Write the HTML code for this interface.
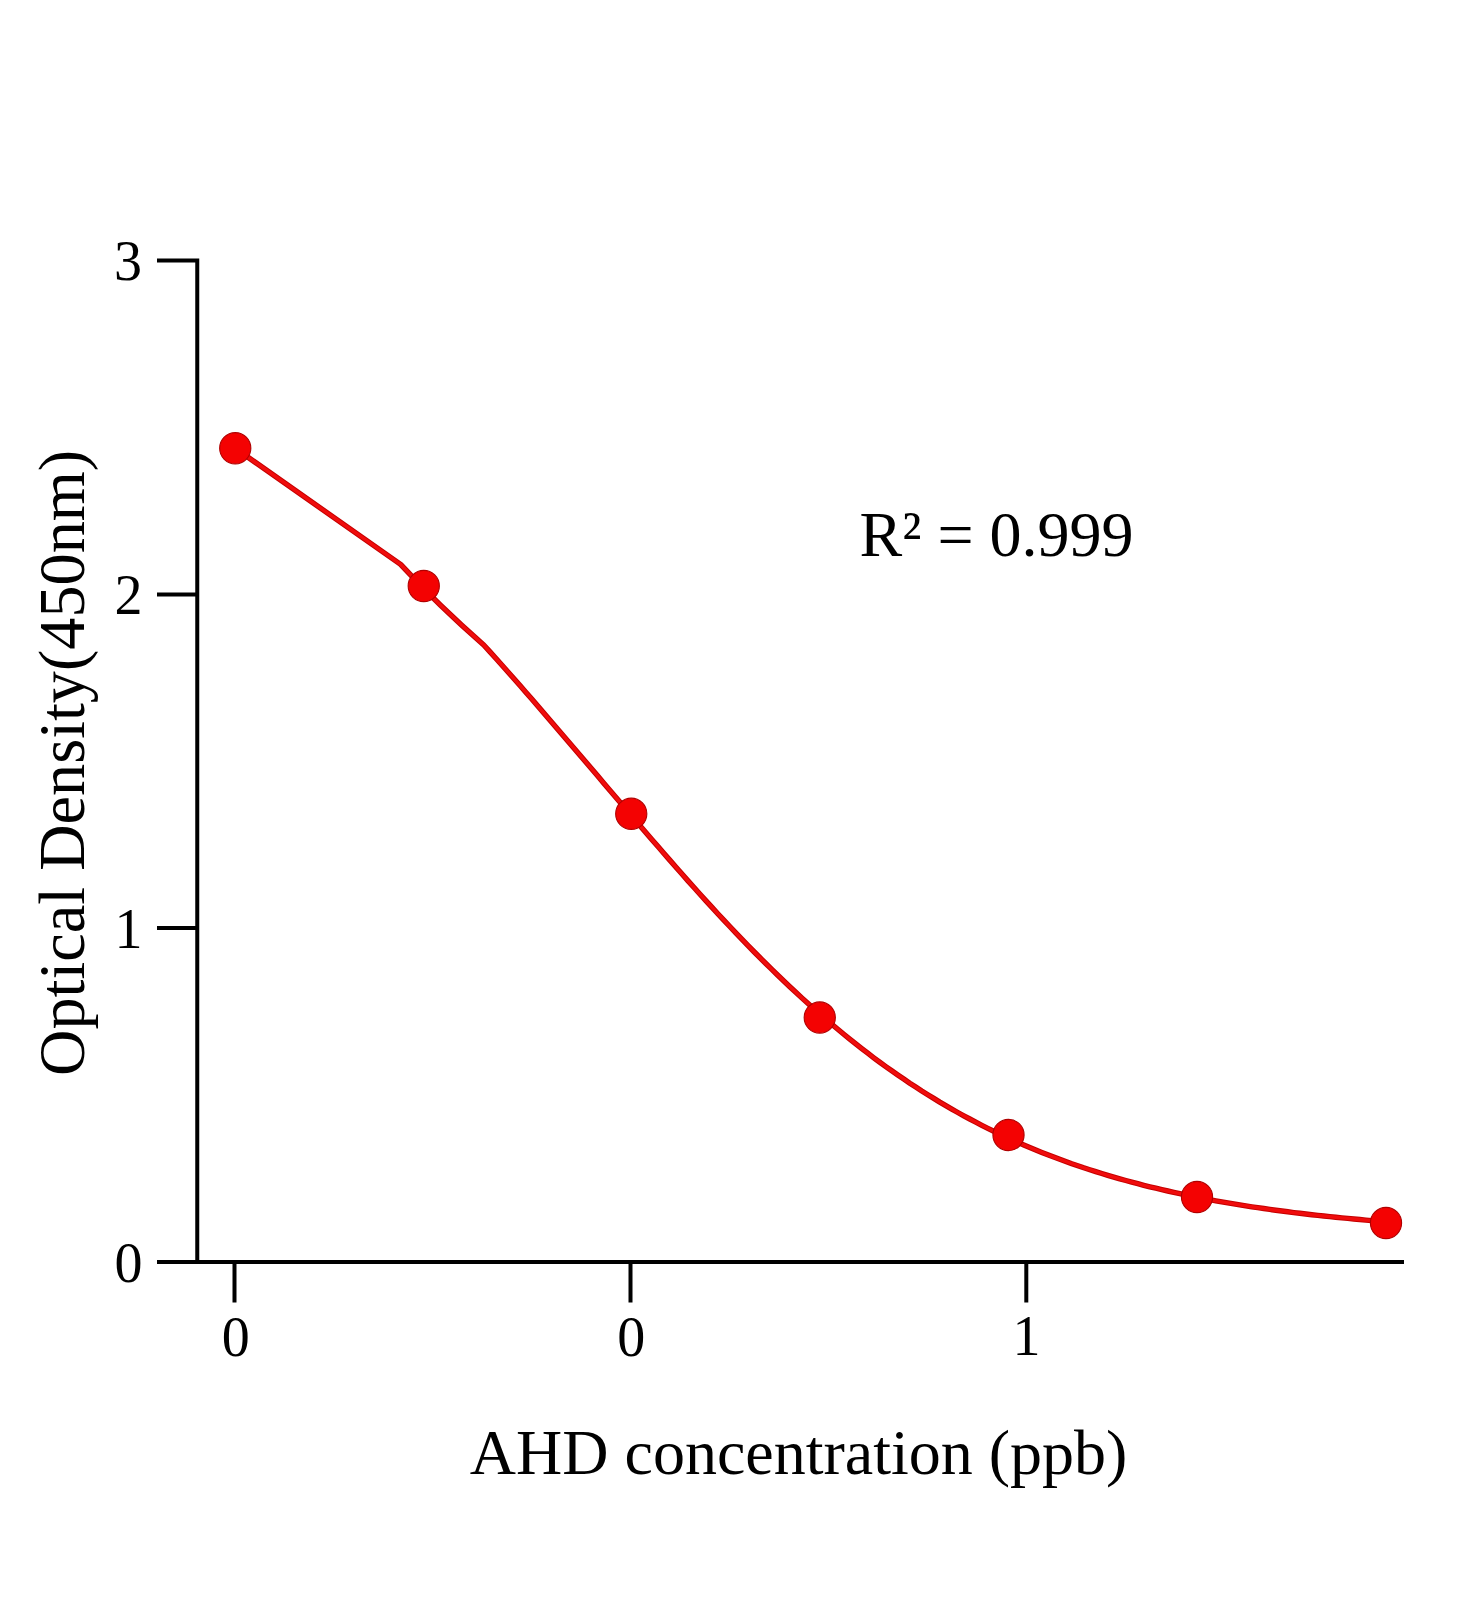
<!DOCTYPE html>
<html><head><meta charset="utf-8"><title>AHD standard curve</title>
<style>
html,body{margin:0;padding:0;background:#fff;}
svg{display:block;}
text{font-family:"Liberation Serif","Times New Roman",serif;fill:#000;}
</style></head><body>
<svg width="1472" height="1600" viewBox="0 0 1472 1600">
<rect width="1472" height="1600" fill="#fff"/>
<g stroke="#000" stroke-width="4" fill="none" stroke-linecap="butt">
<path d="M157 260.5 H197.25 M197.25 258.5 V1264"/>
<path d="M157 594.5 H197 M157 928 H197"/>
<path d="M157 1262 H1404"/>
<path d="M234.5 1262 V1302.6 M630.5 1262 V1302.6 M1026.3 1262 V1302.6"/>
</g>
<g font-size="56" text-anchor="end">
<text x="142.5" y="1282.4">0</text>
<text x="142.5" y="948.2">1</text>
<text x="142.5" y="614.2">2</text>
<text x="142" y="280.2">3</text>
</g>
<g font-size="56" text-anchor="middle">
<text x="235.7" y="1355.5">0</text>
<text x="631.3" y="1355.5">0</text>
<text x="1026.5" y="1355.4">1</text>
</g>
<text x="859.5" y="556" font-size="64">R² = 0.999</text>
<text x="798.6" y="1474" font-size="64" text-anchor="middle">AHD concentration (ppb)</text>
<text transform="translate(83.5 762.9) rotate(-90)" font-size="66.5" text-anchor="middle" textLength="626" lengthAdjust="spacingAndGlyphs">Optical Density(450nm)</text>
<path d="M235.25 448.25 L400.6 564.4 Q437.8 604.75 483.75 645 L489.8 651.6 495.8 658.3 501.8 665.0 507.8 671.7 513.8 678.5 519.8 685.3 525.8 692.2 531.8 699.1 537.8 706.1 543.8 713.1 549.8 720.0 555.8 727.0 561.8 733.9 567.8 740.9 573.8 747.9 579.8 755.0 585.8 762.0 591.8 769.0 597.8 776.1 603.8 783.2 609.8 790.2 615.8 797.3 621.8 804.3 627.8 811.4 633.8 818.4 639.8 825.4 645.8 832.4 651.8 839.4 657.8 846.3 663.8 853.3 669.8 860.1 675.8 867.0 681.8 873.8 687.8 880.6 693.8 887.3 699.8 894.0 705.8 900.6 711.8 907.1 717.8 913.7 723.8 920.1 729.8 926.5 735.8 932.8 741.8 939.1 747.8 945.3 753.8 951.5 759.8 957.5 765.8 963.5 771.8 969.4 777.8 975.3 783.8 981.0 789.8 986.7 795.8 992.3 801.8 997.9 807.8 1003.3 813.8 1008.7 819.8 1014.0 825.8 1019.2 831.8 1024.3 837.8 1029.3 843.8 1034.3 849.8 1039.1 855.8 1043.9 861.8 1048.6 867.8 1053.2 873.8 1057.8 879.8 1062.2 885.8 1066.6 891.8 1070.8 897.8 1075.0 903.8 1079.1 909.8 1083.2 915.8 1087.1 921.8 1091.0 927.8 1094.7 933.8 1098.4 939.8 1102.1 945.8 1105.6 951.8 1109.1 957.8 1112.5 963.8 1115.8 969.8 1119.0 975.8 1122.2 981.8 1125.3 987.8 1128.3 993.8 1131.2 999.8 1134.1 1005.8 1136.9 1011.8 1139.7 1017.8 1142.4 1023.8 1145.0 1029.8 1147.5 1035.8 1150.0 1041.8 1152.4 1047.8 1154.8 1053.8 1157.1 1059.8 1159.3 1065.8 1161.5 1071.8 1163.7 1077.8 1165.7 1083.8 1167.8 1089.8 1169.7 1095.8 1171.6 1101.8 1173.5 1107.8 1175.3 1113.8 1177.1 1119.8 1178.8 1125.8 1180.5 1131.8 1182.1 1137.8 1183.7 1143.8 1185.3 1149.8 1186.8 1155.8 1188.2 1161.8 1189.6 1167.8 1191.0 1173.8 1192.4 1179.8 1193.7 1185.8 1195.0 1191.8 1196.2 1197.8 1197.4 1203.8 1198.6 1209.8 1199.7 1215.8 1200.8 1221.8 1201.9 1227.8 1202.9 1233.8 1203.9 1239.8 1204.9 1245.8 1205.8 1251.8 1206.8 1257.8 1207.7 1263.8 1208.5 1269.8 1209.4 1275.8 1210.2 1281.8 1211.0 1287.8 1211.8 1293.8 1212.6 1299.8 1213.3 1305.8 1214.0 1311.8 1214.7 1317.8 1215.4 1323.8 1216.0 1329.8 1216.6 1335.8 1217.3 1341.8 1217.9 1347.8 1218.4 1353.8 1219.0 1359.8 1219.5 1365.8 1220.1 1371.8 1220.6 1377.8 1221.1 1383.8 1221.6 1386.0 1221.7" fill="none" stroke="#c40000" stroke-width="5.4" stroke-linejoin="round"/>
<path d="M235.25 448.25 L400.6 564.4 Q437.8 604.75 483.75 645 L489.8 651.6 495.8 658.3 501.8 665.0 507.8 671.7 513.8 678.5 519.8 685.3 525.8 692.2 531.8 699.1 537.8 706.1 543.8 713.1 549.8 720.0 555.8 727.0 561.8 733.9 567.8 740.9 573.8 747.9 579.8 755.0 585.8 762.0 591.8 769.0 597.8 776.1 603.8 783.2 609.8 790.2 615.8 797.3 621.8 804.3 627.8 811.4 633.8 818.4 639.8 825.4 645.8 832.4 651.8 839.4 657.8 846.3 663.8 853.3 669.8 860.1 675.8 867.0 681.8 873.8 687.8 880.6 693.8 887.3 699.8 894.0 705.8 900.6 711.8 907.1 717.8 913.7 723.8 920.1 729.8 926.5 735.8 932.8 741.8 939.1 747.8 945.3 753.8 951.5 759.8 957.5 765.8 963.5 771.8 969.4 777.8 975.3 783.8 981.0 789.8 986.7 795.8 992.3 801.8 997.9 807.8 1003.3 813.8 1008.7 819.8 1014.0 825.8 1019.2 831.8 1024.3 837.8 1029.3 843.8 1034.3 849.8 1039.1 855.8 1043.9 861.8 1048.6 867.8 1053.2 873.8 1057.8 879.8 1062.2 885.8 1066.6 891.8 1070.8 897.8 1075.0 903.8 1079.1 909.8 1083.2 915.8 1087.1 921.8 1091.0 927.8 1094.7 933.8 1098.4 939.8 1102.1 945.8 1105.6 951.8 1109.1 957.8 1112.5 963.8 1115.8 969.8 1119.0 975.8 1122.2 981.8 1125.3 987.8 1128.3 993.8 1131.2 999.8 1134.1 1005.8 1136.9 1011.8 1139.7 1017.8 1142.4 1023.8 1145.0 1029.8 1147.5 1035.8 1150.0 1041.8 1152.4 1047.8 1154.8 1053.8 1157.1 1059.8 1159.3 1065.8 1161.5 1071.8 1163.7 1077.8 1165.7 1083.8 1167.8 1089.8 1169.7 1095.8 1171.6 1101.8 1173.5 1107.8 1175.3 1113.8 1177.1 1119.8 1178.8 1125.8 1180.5 1131.8 1182.1 1137.8 1183.7 1143.8 1185.3 1149.8 1186.8 1155.8 1188.2 1161.8 1189.6 1167.8 1191.0 1173.8 1192.4 1179.8 1193.7 1185.8 1195.0 1191.8 1196.2 1197.8 1197.4 1203.8 1198.6 1209.8 1199.7 1215.8 1200.8 1221.8 1201.9 1227.8 1202.9 1233.8 1203.9 1239.8 1204.9 1245.8 1205.8 1251.8 1206.8 1257.8 1207.7 1263.8 1208.5 1269.8 1209.4 1275.8 1210.2 1281.8 1211.0 1287.8 1211.8 1293.8 1212.6 1299.8 1213.3 1305.8 1214.0 1311.8 1214.7 1317.8 1215.4 1323.8 1216.0 1329.8 1216.6 1335.8 1217.3 1341.8 1217.9 1347.8 1218.4 1353.8 1219.0 1359.8 1219.5 1365.8 1220.1 1371.8 1220.6 1377.8 1221.1 1383.8 1221.6 1386.0 1221.7" fill="none" stroke="#f00c0c" stroke-width="3.4" stroke-linejoin="round"/>
<g fill="#f40202" stroke="#b00000" stroke-width="1.1">
<circle cx="235.25" cy="448.25" r="15.6"/>
<circle cx="423.75" cy="586" r="15.6"/>
<circle cx="631.25" cy="813.75" r="15.6"/>
<circle cx="819.75" cy="1017.5" r="15.6"/>
<circle cx="1008.5" cy="1135" r="15.6"/>
<circle cx="1197" cy="1197" r="15.6"/>
<circle cx="1386" cy="1223" r="15.6"/>
</g>
</svg>
</body></html>
